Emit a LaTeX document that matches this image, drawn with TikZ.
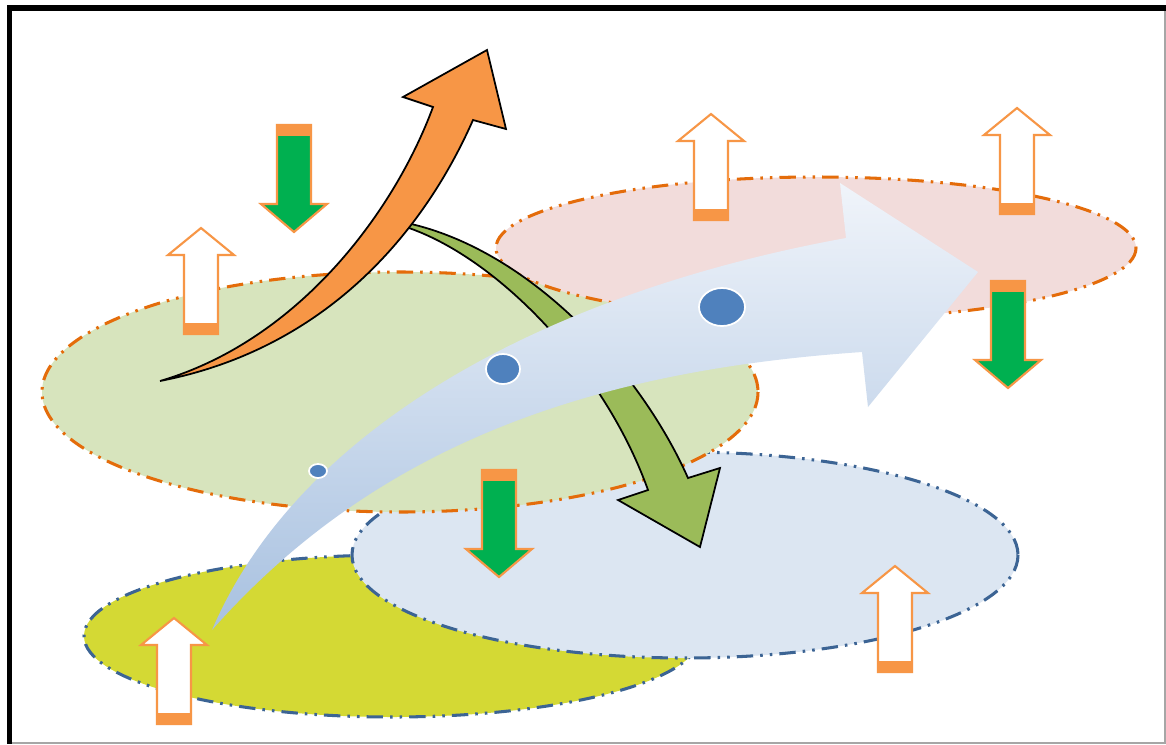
\documentclass[tikz,border=0pt]{standalone}
\usetikzlibrary{shadings}
\definecolor{ellorange}{HTML}{E46C0A}
\definecolor{ellblue}{HTML}{3C6494}
\definecolor{greenfill}{HTML}{D7E4BD}
\definecolor{pinkfill}{HTML}{F2DCDB}
\definecolor{bluefill}{HTML}{DCE6F2}
\definecolor{yellowfill}{HTML}{D4D934}
\definecolor{aorange}{HTML}{F79646}
\definecolor{dngreen}{HTML}{00B050}
\definecolor{garrowc}{HTML}{9BBB59}
\definecolor{dotblue}{HTML}{4F81BD}
\definecolor{gradtop}{HTML}{F0F4FA}
\definecolor{gradbot}{HTML}{A8C1E0}
\begin{document}
\begin{tikzpicture}[x=0.03cm,y=-0.03cm,
  ellbase/.style={line width=2.6pt, dash pattern=on 14pt off 6pt on 2.2pt off 6pt on 2.2pt off 6pt},
  ellO/.style={ellbase, draw=ellorange},
  ellB/.style={ellbase, draw=ellblue},
  bigarrow/.style={draw=black, line width=1.5pt, line join=miter},
  dotst/.style={fill=dotblue, draw=white, line width=1.5pt},
  uparr/.pic={
    \fill[white] (0,0) -- (33,27) -- (17,27) -- (17,106) -- (-17,106) -- (-17,27) -- (-33,27) -- cycle;
    \fill[aorange] (-17,95) rectangle (17,106);
    \draw[aorange, line width=1.8pt, line join=miter] (0,0) -- (33,27) -- (17,27) -- (17,106) -- (-17,106) -- (-17,27) -- (-33,27) -- cycle;
  },
  dnarr/.pic={
    \fill[dngreen] (0,0) -- (33,-28) -- (17,-28) -- (17,-107) -- (-17,-107) -- (-17,-28) -- (-33,-28) -- cycle;
    \fill[aorange] (-17,-107) rectangle (17,-96);
    \draw[aorange, line width=1.8pt, line join=miter] (0,0) -- (33,-28) -- (17,-28) -- (17,-107) -- (-17,-107) -- (-17,-28) -- (-33,-28) -- cycle;
  }]
\useasboundingbox (0,0) rectangle (1166,744);
\fill[white] (0,0) rectangle (1166,744);
% frame
\fill[black] (7,5) rectangle (1166,11);
\fill[black] (7,5) rectangle (12,744);
\draw[gray!70, line width=1pt] (1165,11) -- (1165,743) -- (12,743);
% ellipses (yellow < blue < green < pink)
\fill[yellowfill] (392,636) ellipse [x radius=308, y radius=81];
\draw[ellB] (392,636) ellipse [x radius=308, y radius=81];
\fill[bluefill] (685,555) ellipse [x radius=333, y radius=103];
\draw[ellB] (685,555) ellipse [x radius=333, y radius=103];
\fill[greenfill] (400,392) ellipse [x radius=358, y radius=120];
\draw[ellO] (400,392) ellipse [x radius=358, y radius=120];
\fill[pinkfill] (816,248) ellipse [x radius=320, y radius=71];
\draw[ellO] (816,248) ellipse [x radius=320, y radius=71];
% green curved arrow
\draw[bigarrow, fill=garrowc] (407,223) .. controls (530,250) and (640,370) .. (688,478) -- (720,468) -- (700,547) -- (618,500) -- (648,490) .. controls (605,370) and (500,260) .. (409,228) -- cycle;
% orange curved arrow
\draw[bigarrow, fill=aorange] (160,381) .. controls (300,340) and (395,210) .. (433,107) -- (403,97) -- (487,50) -- (506,129) -- (473,120) .. controls (420,240) and (320,350) .. (160,381) -- cycle;
% big gradient arrow
\shade[top color=gradtop, bottom color=gradbot] (212,630) .. controls (302,420) and (560,290) .. (846,238) -- (840,183) -- (978,272) -- (868,407) -- (862,352) .. controls (600,370) and (380,440) .. (212,630) -- cycle;
% dots
\draw[dotst] (318,471) ellipse [x radius=9, y radius=7];
\draw[dotst] (503,369) ellipse [x radius=17, y radius=15];
\draw[dotst] (722,307) ellipse [x radius=23, y radius=19];
% block arrows
\pic at (201,228) {uparr};
\pic at (711,114) {uparr};
\pic at (1017,108) {uparr};
\pic at (895,566) {uparr};
\pic at (174,618) {uparr};
\pic at (294,232) {dnarr};
\pic at (1008,388) {dnarr};
\pic at (499,577) {dnarr};
\end{tikzpicture}
\end{document}
